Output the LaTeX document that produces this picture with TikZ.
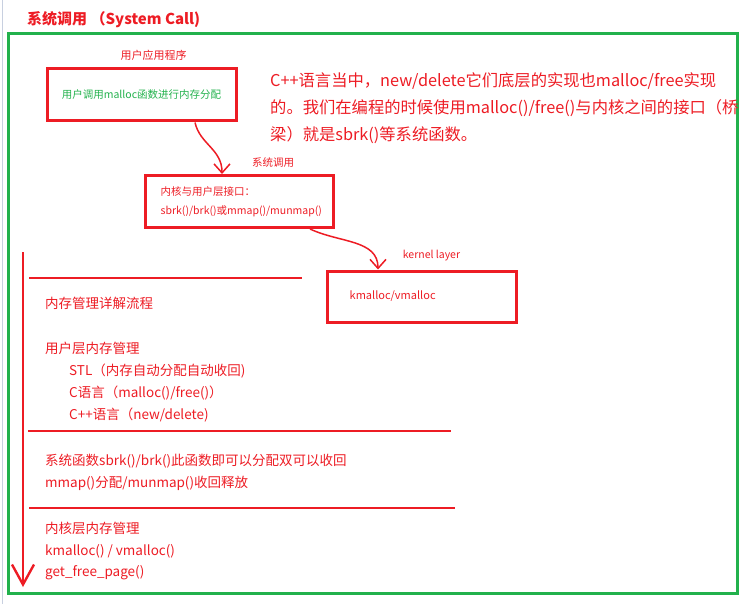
\documentclass[tikz,border=0pt]{standalone}
\usepackage{fontspec}
\newfontfamily\cjk{Noto Sans CJK SC}
\usetikzlibrary{arrows.meta,positioning}
\definecolor{penred}{RGB}{237,28,36}
\definecolor{pengreen}{RGB}{34,177,76}

\begin{document}
\begin{tikzpicture}[x=1pt,y=-1pt,font=\cjk,
  redbox/.style={draw=penred,line width=3pt,minimum width=#1,minimum height=52pt,inner sep=0pt},
  tag/.style={text=penred,inner sep=0pt,font=\cjk\fontsize{10.5}{12}\selectfont},
  body/.style={text=penred,inner sep=0pt,anchor=west,font=\cjk\fontsize{13.5}{16}\selectfont},
  curvy/.style={draw=penred,line width=1.5pt,-{Straight Barb[length=9pt,width=16pt]}},
  rule/.style={draw=penred,line width=2.4pt}]
\useasboundingbox (0,0) rectangle (752,604);
\draw[color={rgb,255:red,200;green,208;blue,224},line width=1pt] (2,0) -- (2,604);

% title and frame
\node[anchor=west,inner sep=0pt,text=penred,font=\cjk\bfseries\fontsize{15}{18}\selectfont] (title) at (27,20) {系统调用 （System Call)};
\draw[pengreen,line width=3pt] (8,34) rectangle (737,593);

% boxes
\node[redbox=189pt,text=pengreen,font=\cjk\fontsize{10.5}{12}\selectfont] (app) at (141.5,95) {用户调用malloc函数进行内存分配};
\node[tag,font=\cjk\fontsize{11}{12}\selectfont,above=7pt of app.north,xshift=12pt] (applbl) {用户应用程序};

\node[redbox=188pt] (sys) at (239,201.5) {};
\node[inner sep=0pt,text=penred,align=left,font=\cjk\fontsize{10.5}{19}\selectfont,right=17pt of sys.west] (systxt) {内核与用户层接口：\\sbrk()/brk()或mmap()/munmap()};
\node[tag,above=6pt of sys.north,xshift=34pt] (syslbl) {系统调用};

\node[redbox=189pt,minimum height=51pt] (kern) at (421.5,296.5) {};
\node[inner sep=0pt,text=penred,font=\cjk\fontsize{11}{13}\selectfont,right=24pt of kern.west] (kerntxt) {kmalloc/vmalloc};
\node[tag,above=8pt of kern.north,xshift=10pt] (kernlbl) {kernel layer};

% connectors
\draw[curvy] ([xshift=53.5pt]app.south) .. controls +(5,22) and +(0,-25) .. ([xshift=-17pt]sys.north);
\draw[curvy] ([xshift=71pt]sys.south) .. controls +(30,14) and +(0,-30) .. ([xshift=-43.5pt]kern.north);

% note
\node[anchor=north west,inner sep=0pt,text=penred,align=left,font=\cjk\fontsize{16.3}{27}\selectfont] (note) at (270,72)
  {C++语言当中，new/delete它们底层的实现也malloc/free实现\\的。我们在编程的时候使用malloc()/free()与内核之间的接口（桥\\梁）就是sbrk()等系统函数。};

% flow on the left
\coordinate (flowtop) at (23,252);
\coordinate (flowend) at (23,587);
\draw[rule,-{Straight Barb[length=20pt,width=22pt]}] (flowtop) -- (flowend);
\draw[rule] (29,278) -- (302,278);
\draw[rule] (28,431) -- (451,431);
\draw[rule] (29,508) -- (455,508);

\node[body] (flow) at (45,303) {内存管理详解流程};
\node[body] (user) at (45,348) {用户层内存管理};
\node[body] (stl) at (69,371) {STL（内存自动分配自动收回)};
\node[body] (clang) at (69,393) {C语言（malloc()/free()）};
\node[body] (cpp) at (69,415) {C++语言（new/delete)};
\node[body] (sbrk) at (45,461) {系统函数sbrk()/brk()此函数即可以分配双可以收回};
\node[body] (mmap) at (45,483) {mmap()分配/munmap()收回释放};
\node[body] (klayer) at (45,528) {内核层内存管理};
\node[body] (kmal) at (45,551) {kmalloc() / vmalloc()};
\node[body] (gfp) at (45,573) {get\_free\_page()};
\end{tikzpicture}
\end{document}
